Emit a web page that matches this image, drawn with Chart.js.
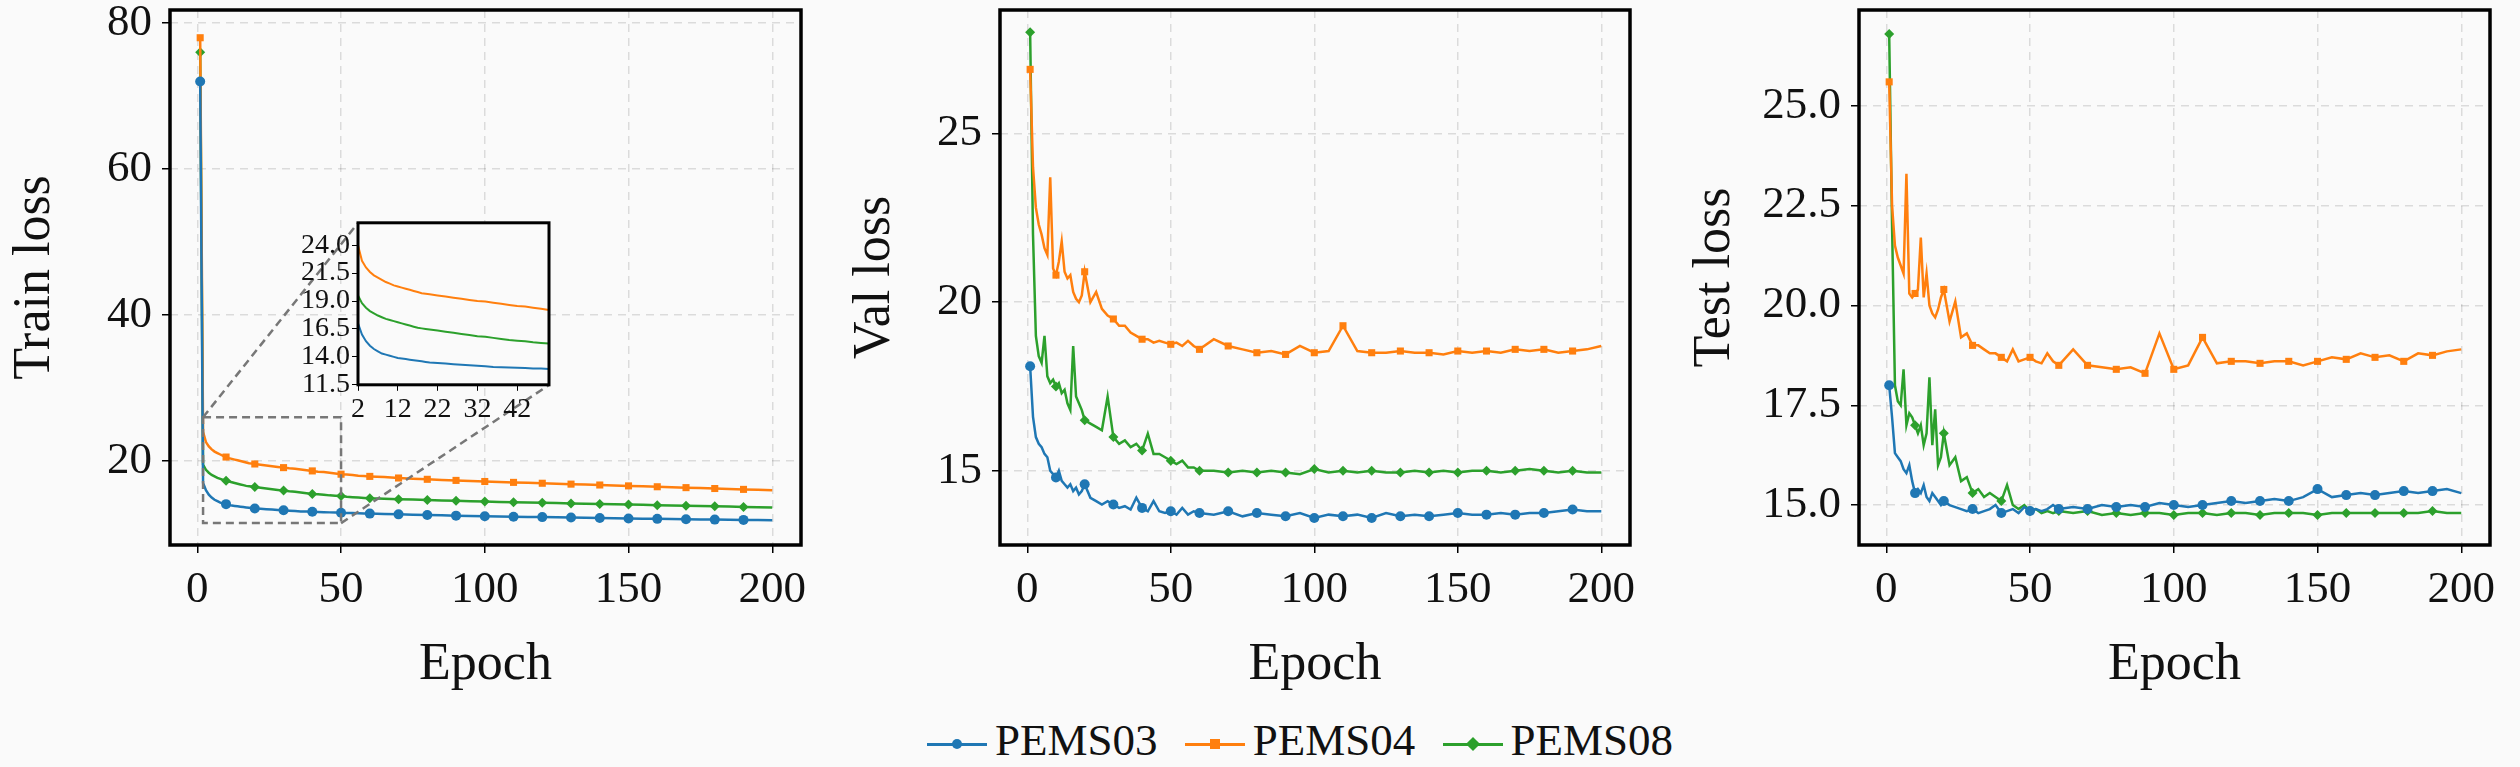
<!DOCTYPE html>
<html>
<head>
<meta charset="utf-8">
<script src="https://cdn.jsdelivr.net/npm/chart.js@4.4.0/dist/chart.umd.min.js"></script>
<style>
  body { margin: 0; background: #fafafa; width: 2520px; height: 767px; overflow: hidden; position: relative; font-family: "Liberation Serif", serif; }
  canvas { position: absolute; top: 0; }
  #legend { position: absolute; top: 714px; left: 0; width: 2600px; text-align: center; font-size: 45px; color: #111; }
  #legend span.item { margin: 0 8px; white-space: nowrap; }
  #legend span.sw { display: inline-block; width: 60px; height: 3px; vertical-align: middle; position: relative; margin-right: 8px; }
  #legend span.sw i { position: absolute; left: 25px; top: -4px; width: 10px; height: 10px; }
</style>
</head>
<body>
<canvas id="c1"></canvas>
<canvas id="c2"></canvas>
<canvas id="c3"></canvas>
<canvas id="inset"></canvas>
<div id="legend">
  <span class="item"><span class="sw" style="background:#1f77b4"><i style="background:#1f77b4;border-radius:50%"></i></span>PEMS03</span>
  <span class="item"><span class="sw" style="background:#ff7f0e"><i style="background:#ff7f0e"></i></span>PEMS04</span>
  <span class="item"><span class="sw" style="background:#2ca02c"><i style="background:#2ca02c;transform:rotate(45deg)"></i></span>PEMS08</span>
</div>
<script>
// エポック: 1..20, 22..60 (2刻み), 65..200 (5刻み)
const epochs = [];
for (let e = 1; e <= 20; e++) epochs.push(e);
for (let e = 22; e <= 60; e += 2) epochs.push(e);
for (let e = 65; e <= 200; e += 5) epochs.push(e);

const seriesNames = ['PEMS03', 'PEMS04', 'PEMS08'];
const seriesColors = ['#1f77b4', '#ff7f0e', '#2ca02c'];
const seriesMarkers = ['circle', 'rect', 'rectRot'];

const train03 = [72.0,17.0,16.0,15.4,15.0,14.7,14.5,14.3,14.2,14.1,14.0,13.9,13.85,13.8,13.75,13.7,13.65,13.6,13.55,13.5,
  13.45,13.4,13.35,13.3,13.25,13.2,13.15,13.1,13.08,13.05,13.02,13.0,12.97,12.95,12.92,12.9,12.87,12.85,12.82,12.8,
  12.75,12.7,12.65,12.6,12.56,12.52,12.48,12.45,12.42,12.38,12.35,12.32,12.29,12.26,12.23,12.2,12.17,12.14,12.11,12.08,12.05,12.02,12.0,11.98,11.96,11.94,11.92,11.9];
const train04 = [78.0,24.0,22.6,22.0,21.6,21.3,21.1,20.9,20.7,20.55,20.4,20.3,20.2,20.1,20.0,19.9,19.8,19.7,19.65,19.6,
  19.5,19.4,19.3,19.2,19.1,19.0,18.95,18.85,18.75,18.65,18.55,18.5,18.4,18.3,18.2,18.15,18.1,18.0,17.95,17.9,
  17.8,17.68,17.58,17.5,17.42,17.35,17.28,17.2,17.14,17.08,17.02,16.96,16.9,16.84,16.78,16.72,16.66,16.6,16.54,16.48,16.42,16.36,16.3,16.24,16.18,16.12,16.06,16.0];
const train08 = [76.0,19.5,18.8,18.4,18.1,17.9,17.7,17.55,17.4,17.3,17.2,17.1,17.0,16.9,16.8,16.7,16.6,16.55,16.5,16.45,
  16.35,16.25,16.15,16.05,15.95,15.85,15.8,15.7,15.6,15.5,15.45,15.4,15.3,15.25,15.2,15.1,15.05,15.0,14.95,14.9,
  14.85,14.78,14.72,14.66,14.6,14.55,14.5,14.45,14.4,14.36,14.32,14.28,14.24,14.2,14.16,14.12,14.08,14.04,14.0,13.96,13.92,13.88,13.84,13.8,13.76,13.72,13.68,13.64];

const val03 = [18.1,16.6,16.0,15.8,15.7,15.5,15.4,15.0,14.9,14.8,15.0,14.7,14.6,14.5,14.6,14.4,14.5,14.3,14.4,14.6,
  14.2,14.1,14.0,14.1,14.0,13.9,13.95,13.85,14.2,13.9,13.8,14.1,13.8,13.75,13.8,13.7,13.9,13.7,13.8,13.75,
  13.7,13.8,13.65,13.75,13.7,13.65,13.75,13.6,13.7,13.65,13.7,13.6,13.75,13.65,13.7,13.65,13.7,13.75,13.7,13.7,13.75,13.7,13.75,13.75,13.8,13.85,13.8,13.8];
const val04 = [26.9,24.0,22.8,22.3,22.0,21.6,21.4,23.7,21.0,20.8,21.2,21.8,20.9,20.7,20.8,20.3,20.1,20.0,20.2,20.9,
  20.0,20.3,19.8,19.6,19.5,19.3,19.3,19.1,19.0,18.9,18.9,18.8,18.85,18.8,18.75,18.8,18.7,18.85,18.7,18.6,
  18.9,18.7,18.6,18.5,18.55,18.45,18.7,18.5,18.55,19.3,18.55,18.5,18.5,18.55,18.5,18.5,18.45,18.55,18.5,18.55,18.5,18.6,18.55,18.6,18.5,18.55,18.6,18.7];
const val08 = [28.0,22.0,19.0,18.4,18.2,19.0,17.8,17.6,17.7,17.5,17.6,17.3,17.4,17.0,16.8,18.7,17.2,17.0,16.8,16.5,
  16.4,16.3,16.2,17.2,16.0,15.8,15.9,15.7,15.8,15.6,16.1,15.5,15.5,15.4,15.3,15.2,15.3,15.1,15.1,15.0,
  15.0,14.95,15.0,14.95,15.0,14.95,14.9,15.05,14.95,15.0,14.95,15.0,14.95,14.95,15.0,14.95,15.0,14.95,15.0,15.0,14.95,15.0,15.05,15.0,14.95,15.0,14.95,14.95];

const test03 = [18.0,17.2,16.3,16.2,16.1,15.9,15.8,16.0,15.6,15.3,15.4,15.3,15.5,15.2,15.1,15.3,15.2,15.1,15.0,15.1,
  15.0,14.95,14.9,14.85,14.9,14.8,14.85,14.9,15.0,14.8,14.85,14.9,14.8,14.95,14.85,14.9,14.85,14.9,15.0,14.9,
  14.95,14.9,15.0,14.95,15.0,14.95,15.05,15.0,14.95,15.0,15.05,15.1,15.05,15.1,15.15,15.1,15.2,15.4,15.2,15.25,15.3,15.25,15.3,15.35,15.3,15.35,15.4,15.3];
const test04 = [25.6,22.5,21.5,21.2,21.0,20.8,23.3,20.3,20.2,20.3,20.4,21.7,20.2,20.8,20.0,19.8,19.7,19.9,20.2,20.4,
  19.6,20.1,19.2,19.3,19.0,19.0,18.9,18.8,18.8,18.7,18.6,18.9,18.6,18.65,18.7,18.6,18.55,18.8,18.6,18.5,
  18.9,18.5,18.45,18.4,18.45,18.3,19.3,18.4,18.5,19.2,18.55,18.6,18.6,18.55,18.6,18.6,18.5,18.6,18.7,18.65,18.8,18.7,18.75,18.6,18.8,18.75,18.85,18.9];
const test08 = [26.8,22.0,18.0,17.6,17.5,18.4,17.0,17.3,17.2,17.0,16.8,17.0,16.5,16.8,18.2,16.5,17.4,16.0,16.2,16.8,
  16.0,16.2,15.6,15.7,15.3,15.4,15.2,15.3,15.2,15.1,15.5,15.0,14.9,15.0,14.85,14.9,14.8,14.85,14.8,14.85,
  14.8,14.85,14.75,14.8,14.75,14.8,14.8,14.75,14.8,14.8,14.75,14.8,14.8,14.75,14.8,14.8,14.8,14.75,14.8,14.8,14.8,14.8,14.8,14.8,14.8,14.85,14.8,14.8];

const xTicks = [0, 50, 100, 150, 200];
const trainTicks = [20, 40, 60, 80];
const valTicks = [15, 20, 25];
const testTicks = [15.0, 17.5, 20.0, 22.5, 25.0];
const insetXTicks = [2, 12, 22, 32, 42];
const insetYTicks = [11.5, 14.0, 16.5, 19.0, 21.5, 24.0];

const FONT = '"Liberation Serif", serif';
const H = 728;
const TOP = 10, BOTTOM = 545;

function makeDatasets(values, withMarkers) {
    return values.map((vals, i) => ({
        label: seriesNames[i],
        data: epochs.map((e, k) => ({ x: e, y: vals[k] })),
        borderColor: seriesColors[i],
        backgroundColor: seriesColors[i],
        borderWidth: 2.5,
        tension: 0,
        pointStyle: seriesMarkers[i],
        pointRadius: withMarkers ? (ctx => {
            const x = ctx.raw && ctx.raw.x;
            return (x === 1 || x % 10 === 0) && x < 200 ? 5 : 0;
        }) : 0,
        pointBorderWidth: 0
    }));
}

function fixedTicks(list) {
    return function(scale) { scale.ticks = list.map(v => ({ value: v })); };
}

// 枠線
const framePlugin = {
    id: 'frame',
    beforeDraw(chart) {
        const { ctx, chartArea: a } = chart;
        ctx.save();
        ctx.fillStyle = '#fafafa';
        ctx.fillRect(a.left, a.top, a.right - a.left, a.bottom - a.top);
        ctx.restore();
    },
    afterDraw(chart) {
        const { ctx, chartArea: a } = chart;
        ctx.save();
        ctx.strokeStyle = '#000';
        ctx.lineWidth = chart.options.frameWidth || 3.5;
        ctx.strokeRect(a.left, a.top, a.right - a.left, a.bottom - a.top);
        ctx.restore();
    }
};

function panel(id, left, width, yWidth, values, yMin, yMax, yTickList, yTitle, fmt, extra) {
    const cv = document.getElementById(id);
    cv.style.left = left + 'px';
    cv.width = width; cv.height = H;
    cv.style.width = width + 'px'; cv.style.height = H + 'px';
    const chart = new Chart(cv, {
        type: 'line',
        data: { datasets: makeDatasets(values, true) },
        options: {
            responsive: false,
            animation: false,
            devicePixelRatio: 1,
            xHeight: H - BOTTOM,
            layout: { padding: { top: 0, right: 30, bottom: 0, left: 0 } },
            plugins: { legend: { display: false }, tooltip: { enabled: false } },
            scales: {
                x: {
                    type: 'linear', min: -9.5, max: 210,
                    afterBuildTicks: fixedTicks(xTicks),
                    afterFit: s => { s.height = s.chart.options.xHeight; },
                    grid: { color: 'rgba(0,0,0,0.12)', lineWidth: 1.5, tickLength: 8, tickColor: '#000' },
                    border: { display: false, dash: [8, 6] },
                    ticks: { color: '#111', font: { family: FONT, size: 45 }, padding: 10 },
                    title: { display: true, text: 'Epoch', color: '#111', font: { family: FONT, size: 52 }, padding: { top: 4 } }
                },
                y: {
                    type: 'linear', min: yMin, max: yMax,
                    afterBuildTicks: fixedTicks(yTickList),
                    afterFit: s => { s.width = yWidth; },
                    grid: { color: 'rgba(0,0,0,0.12)', lineWidth: 1.5, tickLength: 8, tickColor: '#000' },
                    border: { display: false, dash: [8, 6] },
                    ticks: { color: '#111', font: { family: FONT, size: 45 }, padding: 10, autoSkip: false, callback: fmt },
                    title: { display: true, text: yTitle, color: '#111', font: { family: FONT, size: 52 }, padding: { bottom: 12 } }
                }
            }
        },
        plugins: extra ? [framePlugin, extra] : [framePlugin]
    });
    // 描画領域の上端を合わせるため、キャンバスを上にずらす
    const shift = chart.chartArea.top - TOP;
    cv.style.top = (-shift) + 'px';
    chart.options.xHeight = H - BOTTOM - shift;
    chart.update();
    return chart;
}

// 左パネルの拡大枠と接続線 (ページ座標)
const INSET = { left: 358, top: 223, right: 549, bottom: 385 };
const zoomBoxPlugin = {
    id: 'zoombox',
    afterDatasetsDraw(chart) {
        const { ctx, scales: { x, y } } = chart;
        const off = parseFloat(chart.canvas.style.top) || 0;
        const x0 = x.getPixelForValue(2), x1 = x.getPixelForValue(50);
        const y0 = y.getPixelForValue(26), y1 = y.getPixelForValue(11.5);
        ctx.save();
        ctx.strokeStyle = '#777';
        ctx.lineWidth = 2.5;
        ctx.setLineDash([8, 5]);
        ctx.strokeRect(x0, y0, x1 - x0, y1 - y0);
        ctx.beginPath();
        ctx.moveTo(x0, y0); ctx.lineTo(INSET.left, INSET.top - off);
        ctx.moveTo(x1, y1); ctx.lineTo(INSET.right, INSET.bottom - off);
        ctx.stroke();
        ctx.restore();
    }
};

const f0 = v => v;
const f1 = v => Number(v).toFixed(1);

panel('c1', 0, 831, 170, [train03, train04, train08], 8.5, 81.8, trainTicks, 'Train loss', f0, zoomBoxPlugin);
panel('c2', 840, 820, 160, [val03, val04, val08], 12.8, 28.66, valTicks, 'Val loss', f0);
panel('c3', 1680, 840, 179, [test03, test04, test08], 14.0, 27.4, testTicks, 'Test loss', f1);

// 挿入図 (エポック 2-50)
(function() {
    const cv = document.getElementById('inset');
    const left = 280, w = 285, h = 245;
    let top = 200;
    cv.style.left = left + 'px'; cv.style.top = top + 'px';
    cv.width = w; cv.height = h;
    cv.style.width = w + 'px'; cv.style.height = h + 'px';
    const ch = new Chart(cv, {
        type: 'line',
        data: { datasets: makeDatasets([train03, train04, train08], false).map(d => {
            d.data = d.data.filter(p => p.x >= 2 && p.x <= 50);
            d.borderWidth = 2;
            return d;
        }) },
        options: {
            responsive: false,
            animation: false,
            devicePixelRatio: 1,
            frameWidth: 3,
            xHeight: 60,
            layout: { padding: { top: 0, right: w - (INSET.right - left), bottom: 0, left: 0 } },
            plugins: { legend: { display: false }, tooltip: { enabled: false } },
            scales: {
                x: {
                    type: 'linear', min: 2, max: 50,
                    afterBuildTicks: fixedTicks(insetXTicks),
                    afterFit: s => { s.height = s.chart.options.xHeight; },
                    grid: { drawOnChartArea: false, tickLength: 6, tickColor: '#000' },
                    border: { display: false },
                    ticks: { color: '#111', font: { family: FONT, size: 28 }, padding: 2, autoSkip: false, maxRotation: 0 }
                },
                y: {
                    type: 'linear', min: 11.5, max: 26,
                    afterBuildTicks: fixedTicks(insetYTicks),
                    afterFit: s => { s.width = INSET.left - left; },
                    grid: { drawOnChartArea: false, tickLength: 6, tickColor: '#000' },
                    border: { display: false },
                    ticks: { color: '#111', font: { family: FONT, size: 28 }, padding: 2, autoSkip: false, callback: f1 }
                }
            }
        },
        plugins: [framePlugin]
    });
    top = INSET.top - ch.chartArea.top;
    cv.style.top = top + 'px';
    ch.options.xHeight = h - (INSET.bottom - top);
    ch.update();
})();
</script>
</body>
</html>
